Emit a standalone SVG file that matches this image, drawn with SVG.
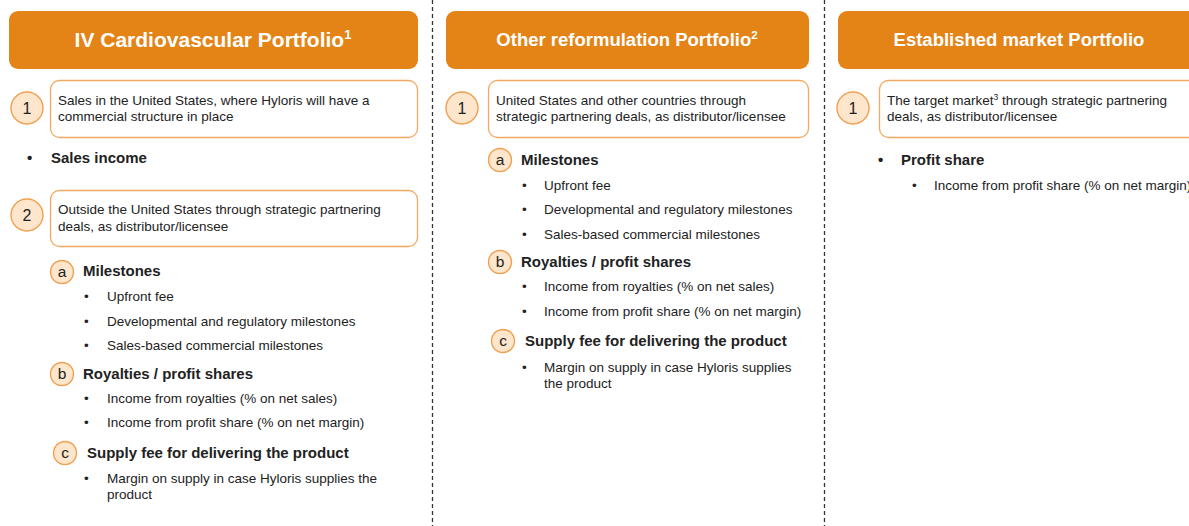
<svg xmlns="http://www.w3.org/2000/svg" width="1189" height="526" viewBox="0 0 1189 526">
<style>
.hdr{fill:#E48417}
.hdrt{font-family:"Liberation Sans",Arial,sans-serif;font-weight:bold;font-size:18.5px;fill:#fff;text-anchor:middle}
.box{fill:#fff;stroke:#F2A860;stroke-width:1.3}
.num{fill:#FDE6CC;stroke:#F0A050;stroke-width:1.4}
.numt{font-family:"Liberation Sans",Arial,sans-serif;font-size:16px;fill:#222;text-anchor:middle}
.lett{font-family:"Liberation Sans",Arial,sans-serif;font-size:15.5px;fill:#222;text-anchor:middle}
.t{font-family:"Liberation Sans",Arial,sans-serif;font-size:13.5px;fill:#222}
.b{font-family:"Liberation Sans",Arial,sans-serif;font-size:15px;font-weight:bold;fill:#222}
.sep{stroke:#333;stroke-width:1.3;stroke-dasharray:4 3;fill:none}
</style>
<rect width="1189" height="526" fill="#fff"/>
<g id="separators">
<line class="sep" x1="432.5" y1="0" x2="432.5" y2="526"/>
<line class="sep" x1="824.5" y1="0" x2="824.5" y2="526"/>
</g>
<g id="col1">
<rect class="hdr" x="9" y="11" width="409" height="58" rx="9"/>
<text class="hdrt" x="213" y="47" style="font-size:21px">IV Cardiovascular Portfolio<tspan style="font-size:13px" dy="-8">1</tspan></text>
<rect class="box" x="50.5" y="80.5" width="367" height="57" rx="9"/>
<circle class="num" cx="27" cy="108" r="16"/>
<text class="numt" x="27" y="114">1</text>
<text class="t" x="58" y="105">Sales in the United States, where Hyloris will have a</text>
<text class="t" x="58" y="121">commercial structure in place</text>
<text class="b" x="27" y="163">•</text>
<text class="b" x="51" y="163">Sales income</text>
<rect class="box" x="50.5" y="190.5" width="367" height="56" rx="9"/>
<circle class="num" cx="27" cy="215" r="16"/>
<text class="numt" x="27" y="221">2</text>
<text class="t" x="58" y="214">Outside the United States through strategic partnering</text>
<text class="t" x="58" y="231">deals, as distributor/licensee</text>
<circle class="num" cx="62" cy="272" r="11.5"/>
<text class="lett" x="62" y="277">a</text>
<text class="b" x="83" y="276">Milestones</text>
<text class="t" x="84" y="301">•</text><text class="t" x="107" y="301">Upfront fee</text>
<text class="t" x="84" y="326">•</text><text class="t" x="107" y="326">Developmental and regulatory milestones</text>
<text class="t" x="84" y="350">•</text><text class="t" x="107" y="350">Sales-based commercial milestones</text>
<circle class="num" cx="62" cy="374" r="11.5"/>
<text class="lett" x="62" y="379">b</text>
<text class="b" x="83" y="379">Royalties / profit shares</text>
<text class="t" x="84" y="403">•</text><text class="t" x="107" y="403">Income from royalties (% on net sales)</text>
<text class="t" x="84" y="427">•</text><text class="t" x="107" y="427">Income from profit share (% on net margin)</text>
<circle class="num" cx="65" cy="453" r="11.5"/>
<text class="lett" x="65" y="458">c</text>
<text class="b" x="87" y="458">Supply fee for delivering the product</text>
<text class="t" x="84" y="483">•</text><text class="t" x="107" y="483">Margin on supply in case Hyloris supplies the</text>
<text class="t" x="107" y="499">product</text>
</g>
<g id="col2">
<rect class="hdr" x="446" y="11" width="363" height="58" rx="9"/>
<text class="hdrt" x="627" y="46">Other reformulation Portfolio<tspan style="font-size:11.5px" dy="-7">2</tspan></text>
<rect class="box" x="488.5" y="80.5" width="320" height="57" rx="9"/>
<circle class="num" cx="462" cy="108" r="16"/>
<text class="numt" x="462" y="114">1</text>
<text class="t" x="496" y="105">United States and other countries through</text>
<text class="t" x="496" y="121">strategic partnering deals, as distributor/licensee</text>
<circle class="num" cx="500" cy="160" r="11.5"/>
<text class="lett" x="500" y="165">a</text>
<text class="b" x="521" y="165">Milestones</text>
<text class="t" x="522" y="190">•</text><text class="t" x="544" y="190">Upfront fee</text>
<text class="t" x="522" y="214">•</text><text class="t" x="544" y="214">Developmental and regulatory milestones</text>
<text class="t" x="522" y="239">•</text><text class="t" x="544" y="239">Sales-based commercial milestones</text>
<circle class="num" cx="500" cy="262" r="11.5"/>
<text class="lett" x="500" y="267">b</text>
<text class="b" x="521" y="267">Royalties / profit shares</text>
<text class="t" x="522" y="291">•</text><text class="t" x="544" y="291">Income from royalties (% on net sales)</text>
<text class="t" x="522" y="316">•</text><text class="t" x="544" y="316">Income from profit share (% on net margin)</text>
<circle class="num" cx="503" cy="341" r="11.5"/>
<text class="lett" x="503" y="346">c</text>
<text class="b" x="525" y="346">Supply fee for delivering the product</text>
<text class="t" x="522" y="372">•</text><text class="t" x="544" y="372">Margin on supply in case Hyloris supplies</text>
<text class="t" x="544" y="388">the product</text>
</g>
<g id="col3">
<rect class="hdr" x="838" y="11" width="362" height="58" rx="9"/>
<text class="hdrt" x="1019" y="46">Established market Portfolio</text>
<rect class="box" x="879.5" y="80.5" width="320" height="57" rx="9"/>
<circle class="num" cx="853" cy="108" r="16"/>
<text class="numt" x="853" y="114">1</text>
<text class="t" x="887" y="105">The target market<tspan style="font-size:8.5px" dy="-5">3</tspan><tspan dy="5"> through strategic partnering</tspan></text>
<text class="t" x="887" y="121">deals, as distributor/licensee</text>
<text class="b" x="878" y="165">•</text>
<text class="b" x="901" y="165">Profit share</text>
<text class="t" x="912" y="190">•</text><text class="t" x="934" y="190">Income from profit share (% on net margin)</text>
</g>
</svg>
